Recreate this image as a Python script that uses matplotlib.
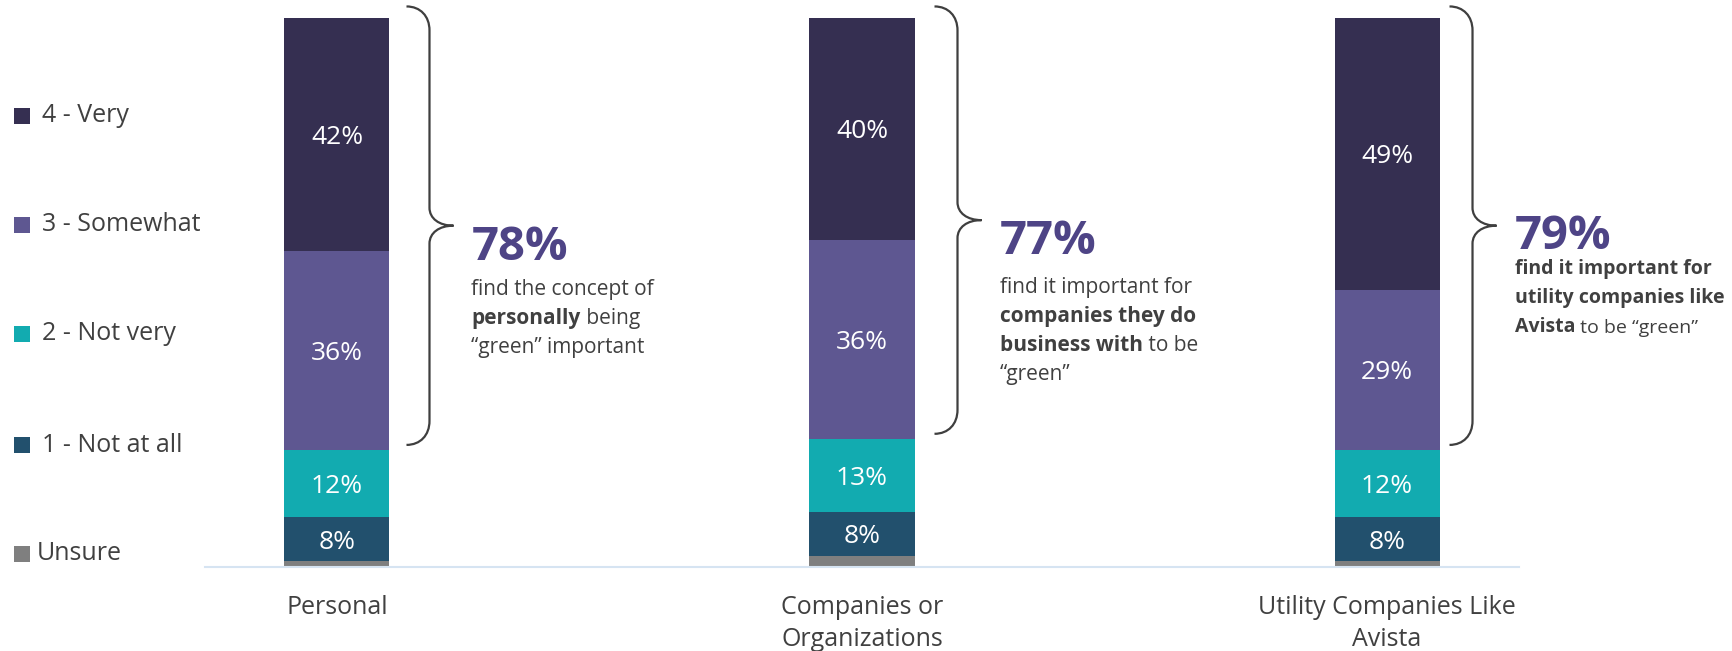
import matplotlib
matplotlib.use("Agg")
import matplotlib.pyplot as plt
from matplotlib.path import Path
from matplotlib.patches import PathPatch, Rectangle
import numpy as np

plt.rcParams['font.family'] = ['Open Sans', 'DejaVu Sans']

# survey shares (%) per question, bottom to top of each stack
categories = ["Personal", "Companies or\nOrganizations", "Utility Companies Like\nAvista"]
unsure = [1, 2, 1]
not_at_all = [8, 8, 8]
not_very = [12, 13, 12]
somewhat = [36, 36, 29]
very = [42, 40, 49]

# top-two-box totals and the sentences next to the braces
top2_labels = ["78%", "77%", "79%"]
descriptions = [
    [[("find the concept of", "normal")],
     [("personally", "bold"), (" being", "normal")],
     [("\u201cgreen\u201d important", "normal")]],
    [[("find it important for", "normal")],
     [("companies they do", "bold")],
     [("business with", "bold"), (" to be", "normal")],
     [("\u201cgreen\u201d", "normal")]],
    [[("find it important for", "bold")],
     [("utility companies like", "bold")],
     [("Avista", "bold"), (" to be \u201cgreen\u201d", "normal")]],
]

series = [unsure, not_at_all, not_very, somewhat, very]
series_names = ["Unsure", "1 - Not at all", "2 - Not very", "3 - Somewhat", "4 - Very"]
colors = ["#7F7F7F", "#22506D", "#12ABB0", "#5E5791", "#352F51"]
text_gray = "#404040"
accent = "#4E4486"

fig = plt.figure(figsize=(17.32, 6.51), dpi=100)
W, H = 1732, 651
ax = fig.add_axes([205 / W, 84 / H, (1519 - 205) / W, 555 / H])

x = np.arange(len(categories))
width = 0.2
bottom = np.zeros(len(categories))
for i, (vals, col) in enumerate(zip(series, colors)):
    vals = np.array(vals, dtype=float)
    ax.bar(x, vals, width, bottom=bottom, color=col, linewidth=0)
    if i > 0:
        for xi, b, v in zip(x, bottom, vals):
            ax.text(xi, b + v / 2, f"{int(v)}%", ha="center", va="center_baseline",
                    color="white", fontsize=19)
    bottom += vals

ax.set_xlim(-0.2514, 2.2514)
ax.set_ylim(0, 100)
for side in ["top", "left", "right"]:
    ax.spines[side].set_visible(False)
ax.spines["bottom"].set_color("#D6E4F2")
ax.spines["bottom"].set_linewidth(1.5)
ax.set_yticks([])
ax.set_xticks(x)
ax.set_xticklabels(categories, fontsize=18, color=text_gray, linespacing=1.38)
ax.tick_params(axis="x", length=0, pad=20)

# curly braces around the top two boxes, built in pixel units
brace_gap = [17, 20, 10]
num_dy = [-22, -21, -11]
desc_dy = [-64, -67, -43]
desc_size = [15, 15, 14]
line_step = 29
to_data = ax.transData.inverted()

for k in range(len(categories)):
    base = unsure[k] + not_at_all[k] + not_very[k]
    top = base + somewhat[k] + very[k]
    x_right, y_bot = ax.transData.transform((x[k] + width / 2, base + 1))
    _, y_top = ax.transData.transform((x[k], top + 2))
    x0 = x_right + brace_gap[k]
    xm = x0 + 23
    xt = x0 + 47
    ym = (y_bot + y_top) / 2
    re, rm = 24, 18
    dx = xm - x0
    verts = [
        (x0, y_top),
        (x0 + 0.6 * dx, y_top), (xm, y_top - 0.4 * re), (xm, y_top - re),
        (xm, ym + rm),
        (xm, ym + 0.4 * rm), (xm + 0.4 * (xt - xm), ym), (xt, ym),
        (xm + 0.4 * (xt - xm), ym), (xm, ym - 0.4 * rm), (xm, ym - rm),
        (xm, y_bot + re),
        (xm, y_bot + 0.4 * re), (x0 + 0.6 * dx, y_bot), (x0, y_bot),
    ]
    codes = [Path.MOVETO] + [Path.CURVE4] * 3 + [Path.LINETO] + [Path.CURVE4] * 6 \
        + [Path.LINETO] + [Path.CURVE4] * 3
    verts = to_data.transform(verts)
    ax.add_patch(PathPatch(Path(verts, codes), facecolor="none",
                           edgecolor="#3F3F3F", linewidth=1.6, clip_on=False))

    tip = to_data.transform((xt, ym))
    ax.annotate(top2_labels[k], xy=tip, xytext=(18, num_dy[k]),
                textcoords="offset pixels", ha="left", va="center",
                fontsize=34, fontweight="bold", color=accent,
                annotation_clip=False)
    for j, line in enumerate(descriptions[k]):
        prev = None
        for text, weight in line:
            if prev is None:
                prev = ax.annotate(text, xy=tip, xytext=(18, desc_dy[k] - j * line_step),
                                   textcoords="offset pixels", ha="left", va="center",
                                   fontsize=desc_size[k], fontweight=weight,
                                   color=text_gray, annotation_clip=False)
            else:
                prev = ax.annotate(text, xy=(1, 0), xycoords=prev, ha="left",
                                   va="bottom", fontsize=desc_size[k], fontweight=weight,
                                   color=text_gray, annotation_clip=False)

# legend on the left, top category first
legend_y = [116, 225, 334, 445, 554]
for name, col, ly in zip(series_names[::-1], colors[::-1], legend_y):
    fig.patches.append(Rectangle((14 / W, 1 - (ly + 8) / H), 16 / W, 16 / H,
                                 transform=fig.transFigure, facecolor=col,
                                 edgecolor="none"))
    tx = 37 if name == "Unsure" else 42
    fig.text(tx / W, 1 - ly / H, name, ha="left", va="center",
             fontsize=18, color=text_gray)

fig.savefig("out.png", dpi=100)
